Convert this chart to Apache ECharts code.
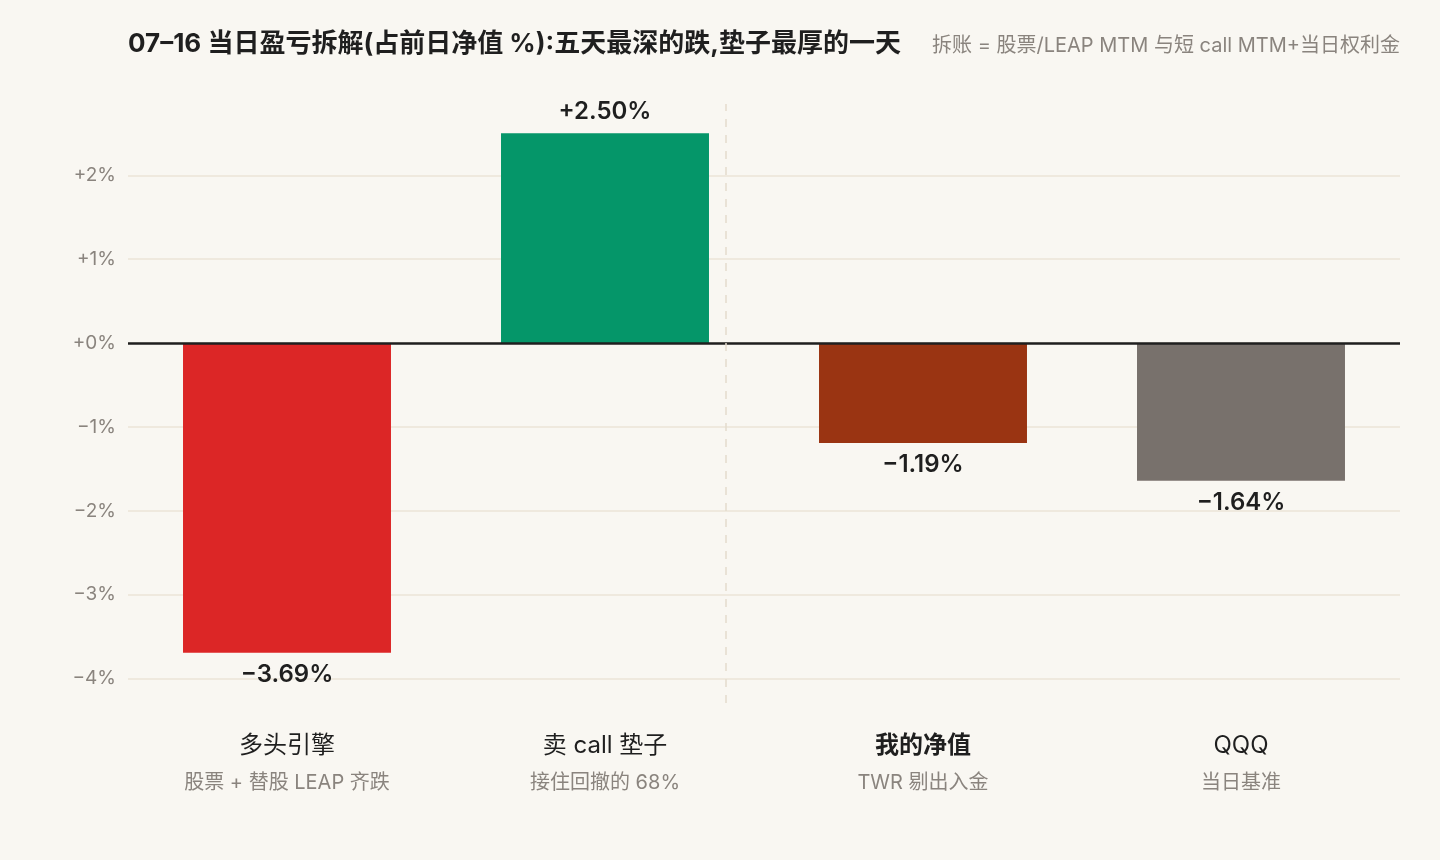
<!DOCTYPE html>
<html lang="zh">
<head>
<meta charset="UTF-8">
<title>07-16 当日盈亏拆解</title>
<script src="https://cdn.jsdelivr.net/npm/echarts@6/dist/echarts.min.js"></script>
<style>
  html, body { margin: 0; padding: 0; background: #f9f7f2; }
  #main { width: 1440px; height: 860px; }
</style>
</head>
<body>
<div id="main"></div>
<script>
// --- data ---
const categories = ['多头引擎', '卖 call 垫子', '我的净值', 'QQQ'];
const subLabels = ['股票 + 替股 LEAP 齐跌', '接住回撤的 68%', 'TWR 剔出入金', '当日基准'];
const values = [-3.69, 2.50, -1.19, -1.64];
const barColors = ['#dc2626', '#059669', '#9a3412', '#78716c'];
const yTicks = [-4, -3, -2, -1, 0, 1, 2];
const highlightIndex = 2;      // 我的净值 is bold
const dividerAt = 1.38;        // dashed separator, in bar-index units

const FONT = "Inter, 'Noto Sans CJK SC', sans-serif";
const MUTED = '#8a847e';
const INK = '#1f1f1f';

function pct(v, digits) {
  const s = Math.abs(v).toFixed(digits) + '%';
  return (v < 0 ? '\u2212' : '+') + s;
}

const chart = echarts.init(document.getElementById('main'));

const barData = values.map((v, i) => ({
  value: v,
  itemStyle: { color: barColors[i] },
  label: { position: v >= 0 ? 'top' : 'bottom' }
}));

const option = {
  backgroundColor: '#f9f7f2',
  animation: false,
  textStyle: { fontFamily: FONT },
  title: [
    {
      text: '07\u201316 当日盈亏拆解(占前日净值 %):五天最深的跌,垫子最厚的一天',
      left: 123, top: 26,
      textStyle: { fontFamily: FONT, fontSize: 26, fontWeight: 'bold', color: INK }
    },
    {
      text: '拆账 = 股票/LEAP MTM 与短 call MTM+当日权利金',
      right: 35, top: 31,
      textStyle: { fontFamily: FONT, fontSize: 20, fontWeight: 'normal', color: MUTED }
    }
  ],
  grid: { left: 128, right: 40, top: 104, bottom: 157 },
  xAxis: [
    {
      type: 'category',
      data: categories,
      axisLine: { show: false },
      axisTick: { show: false },
      splitLine: { show: false },
      axisLabel: {
        margin: 24,
        formatter: function (val, idx) {
          const main = idx === highlightIndex ? 'mainBold' : 'main';
          return '{' + main + '|' + val + '}\n{sub|' + subLabels[idx] + '}';
        },
        rich: {
          main: { fontFamily: FONT, fontSize: 24, color: INK, lineHeight: 37 },
          mainBold: { fontFamily: FONT, fontSize: 24, color: INK, fontWeight: 'bold', lineHeight: 37 },
          sub: { fontFamily: FONT, fontSize: 20, color: MUTED, lineHeight: 38 }
        }
      }
    },
    { type: 'value', min: -0.5, max: categories.length - 0.5, show: false }
  ],
  yAxis: {
    type: 'value',
    min: -4.29,
    max: 2.85,
    axisLine: { show: false },
    axisTick: { show: false },
    axisLabel: { show: false },
    splitLine: { show: false }
  },
  series: [
    {
      // horizontal gridlines + tick labels, kept under the bars
      type: 'line',
      xAxisIndex: 1,
      data: [],
      silent: true,
      z: 1,
      markLine: {
        silent: true,
        symbol: 'none',
        z: 1,
        animation: false,
        lineStyle: { color: '#ebe4d7', width: 1.5, type: 'solid' },
        label: {
          position: 'start',
          distance: 12,
          fontFamily: FONT,
          fontSize: 19,
          color: MUTED,
          formatter: p => pct(p.value, 0)
        },
        data: yTicks.map(t => ({ yAxis: t }))
      }
    },
    {
      type: 'bar',
      data: barData,
      barWidth: '65.4%',
      z: 2,
      label: {
        show: true,
        distance: 10,
        fontFamily: FONT,
        fontSize: 24,
        fontWeight: 600,
        color: INK,
        formatter: p => pct(p.value, 2)
      }
    },
    {
      // zero baseline and dashed divider, above the bars
      type: 'line',
      xAxisIndex: 1,
      data: [],
      silent: true,
      markLine: {
        silent: true,
        symbol: 'none',
        z: 5,
        animation: false,
        label: { show: false },
        data: [
          { yAxis: 0, lineStyle: { color: '#1f1f1f', width: 2.5, type: 'solid' } },
          { xAxis: dividerAt, lineStyle: { color: '#e4dbcd', width: 1.5, type: [8, 8] } }
        ]
      }
    }
  ]
};

chart.setOption(option);
</script>
</body>
</html>
